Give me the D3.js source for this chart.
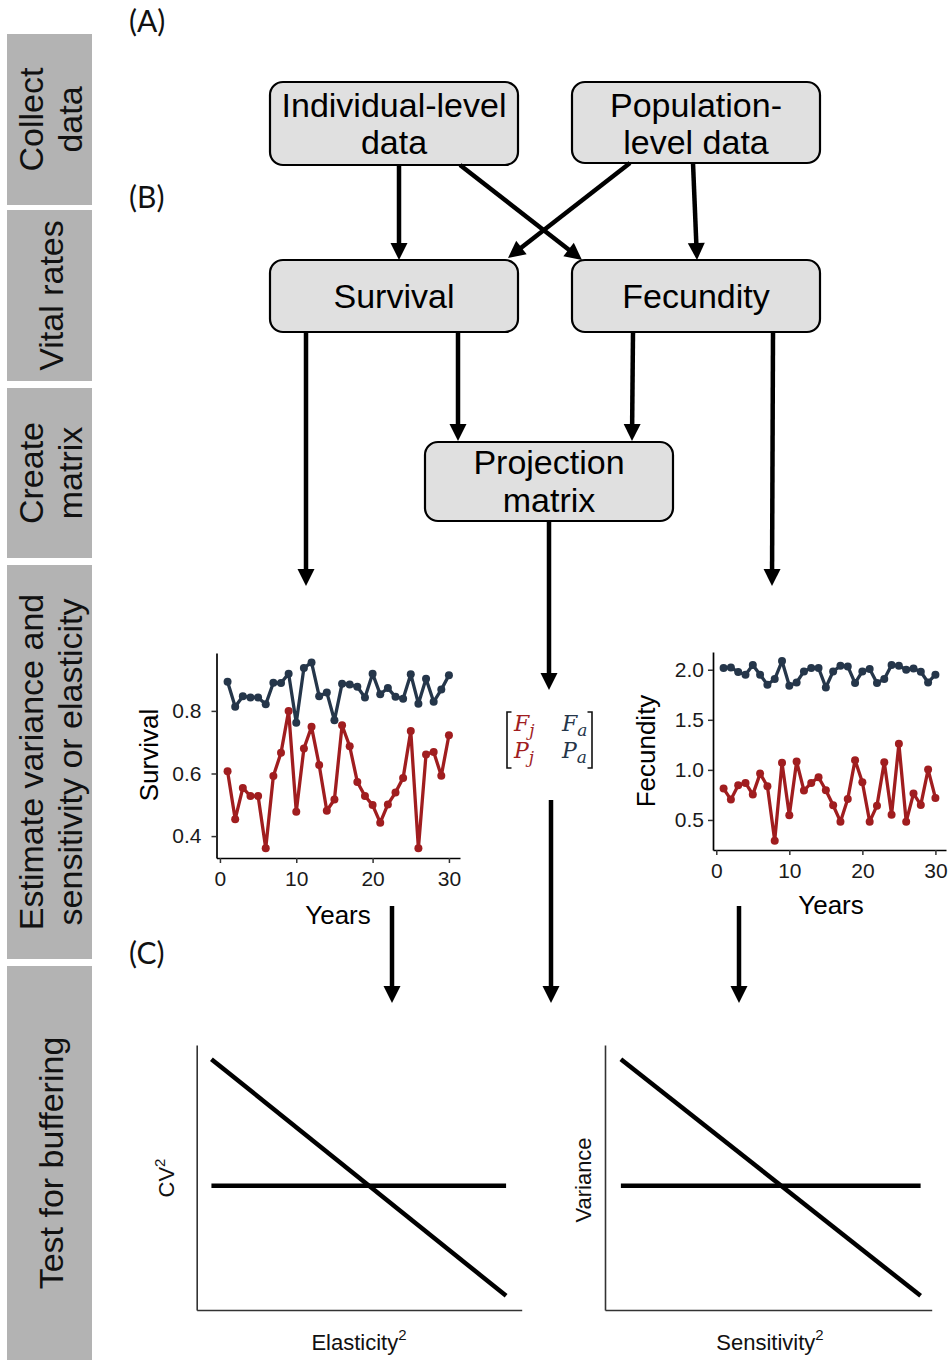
<!DOCTYPE html>
<html><head><meta charset="utf-8">
<script src="https://cdn.jsdelivr.net/npm/d3@7"></script>
<style>body{margin:0;background:#fff}svg{display:block}</style>
</head><body>
<svg id="c" width="950" height="1360"></svg>
<script>
// ---------------- DATA ----------------
const years = [1,2,3,4,5,6,7,8,9,10,11,12,13,14,15,16,17,18,19,20,21,22,23,24,25,26,27,28,29,30];
const survivalAdult = [0.893,0.813,0.847,0.843,0.843,0.821,0.890,0.889,0.919,0.762,0.937,0.955,0.847,0.859,0.770,0.887,0.884,0.877,0.843,0.919,0.853,0.873,0.845,0.839,0.917,0.823,0.903,0.829,0.868,0.914];
const survivalJuvenile = [0.607,0.454,0.554,0.528,0.528,0.361,0.592,0.666,0.800,0.478,0.680,0.749,0.627,0.481,0.517,0.754,0.687,0.573,0.528,0.499,0.443,0.501,0.539,0.586,0.736,0.361,0.661,0.669,0.593,0.722];
const fecundityAdult = [2.017,2.023,1.977,1.950,2.047,1.950,1.850,1.907,2.087,1.840,1.873,1.983,2.017,2.017,1.823,1.983,2.040,2.033,1.867,1.983,2.007,1.867,1.907,2.047,2.040,2.000,2.013,1.980,1.873,1.950];
const fecundityJuvenile = [0.813,0.703,0.847,0.870,0.753,0.963,0.837,0.293,1.070,0.547,1.083,0.793,0.870,0.927,0.797,0.647,0.483,0.710,1.097,0.877,0.483,0.643,1.077,0.553,1.260,0.483,0.763,0.650,1.003,0.720];
const yearTicks = [0,10,20,30];
const survivalTicks = [0.4,0.6,0.8];
const fecundityTicks = [0.5,1.0,1.5,2.0];
const conceptX = [0,1];
const steepY = [1,0];
const flatY = [0.465,0.465];
const stageLabels = [["Collect","data"],["Vital rates"],["Create","matrix"],["Estimate variance and","sensitivity or elasticity"],["Test for buffering"]];
const panelLabels = ["(A)","(B)","(C)"];
const boxLabels = [["Individual-level","data"],["Population-","level data"],["Survival"],["Fecundity"],["Projection","matrix"]];
const matrixEntries = [["F","j"],["F","a"],["P","j"],["P","a"]];
const matrixStage = ["juvenile","adult","juvenile","adult"];

// ---------------- LAYOUT / STYLE ----------------
const RED = "#a01d1f", BLUE = "#25364a";
const SANS = "'Liberation Sans', Arial, sans-serif";
const svg = d3.select("#c");
svg.append("rect").attr("width",950).attr("height",1360).attr("fill","#fff");

// sidebar
const stageBounds = [[34,205],[210,381],[388,558],[565,959],[966,1360]];
const side = svg.append("g");
stageLabels.forEach((lines,i)=>{
  const [y0,y1] = stageBounds[i];
  side.append("rect").attr("x",7).attr("y",y0).attr("width",85).attr("height",y1-y0).attr("fill","#b3b3b3");
  const cy = (y0+y1)/2;
  lines.forEach((t,k)=>{
    const bx = 62.5 + (k-(lines.length-1)/2)*39;
    side.append("text").attr("transform",`translate(${bx},${cy}) rotate(-90)`)
      .attr("text-anchor","middle").attr("font-family",SANS).attr("font-size",34).attr("fill","#111").text(t);
  });
});

// panel labels
const panelPos = [[129,32],[129,208],[129,964]];
panelLabels.forEach((t,i)=>{
  svg.append("text").attr("x",panelPos[i][0]).attr("y",panelPos[i][1])
    .attr("font-family","Lato, 'Open Sans', sans-serif").attr("font-size",30).attr("fill","#111").text(t);
});

// flow boxes
const boxRects = [[270,82,248,83],[572,82,248,81],[270,260,248,72],[572,260,248,72],[425,442,248,79]];
const boxBaselines = [[117,154],[117,154],[308],[308],[474,512]];
boxLabels.forEach((lines,i)=>{
  const [x,y,w,h] = boxRects[i];
  svg.append("rect").attr("x",x).attr("y",y).attr("width",w).attr("height",h).attr("rx",13)
    .attr("fill","#e0e0e0").attr("stroke","#000").attr("stroke-width",2.2);
  lines.forEach((t,k)=>{
    svg.append("text").attr("x",x+w/2).attr("y",boxBaselines[i][k]).attr("text-anchor","middle")
      .attr("font-family",SANS).attr("font-size",34).attr("fill","#000").text(t);
  });
});

// arrows
function arrow(x1,y1,x2,y2){
  const dx=x2-x1, dy=y2-y1, L=Math.hypot(dx,dy), ux=dx/L, uy=dy/L;
  const hl=17, hw=8.5;
  const bx=x2-ux*hl, by=y2-uy*hl;
  svg.append("line").attr("x1",x1).attr("y1",y1).attr("x2",bx+ux*2).attr("y2",by+uy*2)
    .attr("stroke","#000").attr("stroke-width",4.5);
  svg.append("path").attr("d",`M${x2},${y2}L${bx-uy*hw},${by+ux*hw}L${bx+uy*hw},${by-ux*hw}Z`).attr("fill","#000");
}
arrow(399,165,399,260);
arrow(460,165,582,260);
arrow(630,163,508,258);
arrow(693,163,697,260);
arrow(306,332,306,586);
arrow(458,332,458,441);
arrow(633,332,632,441);
arrow(773,332,772,586);
arrow(549,521,549,690);
arrow(551,800,551,1003);
arrow(392,906,392,1003);
arrow(739,906,739,1003);

// time series charts
function tsChart(opts){
  const g = svg.append("g");
  const x = d3.scaleLinear().domain([-0.45,31.45]).range(opts.xr);
  const y = d3.scaleLinear().domain(opts.yd).range(opts.yr);
  const ax = g.append("g").attr("transform",`translate(0,${opts.yr[0]})`)
    .call(d3.axisBottom(x).tickValues(yearTicks).tickSize(5).tickPadding(8).tickSizeOuter(0));
  const ay = g.append("g").attr("transform",`translate(${opts.xr[0]},0)`)
    .call(d3.axisLeft(y).tickValues(opts.ticks).tickFormat(d3.format(".1f")).tickSize(5).tickPadding(opts.pad).tickSizeOuter(0));
  [ax,ay].forEach(a=>{
    a.select(".domain").attr("stroke","#000").attr("stroke-width",1.7);
    a.selectAll(".tick line").attr("stroke","#333").attr("stroke-width",1.5);
    a.selectAll(".tick text").attr("font-family",SANS).attr("font-size",21).attr("fill","#1a1a1a");
  });
  const series = [[opts.juv,RED],[opts.adult,BLUE]];
  series.forEach(([vals,col])=>{
    const pts = years.map((yr,i)=>[yr,vals[i]]);
    g.append("path").attr("d",d3.line().x(d=>x(d[0])).y(d=>y(d[1]))(pts))
      .attr("fill","none").attr("stroke",col).attr("stroke-width",3.3).attr("stroke-linejoin","round");
    g.selectAll(null).data(pts).enter().append("circle")
      .attr("cx",d=>x(d[0])).attr("cy",d=>y(d[1])).attr("r",4).attr("fill",col);
  });
  g.append("text").attr("transform",`translate(${opts.ylab[0]},${opts.ylab[1]}) rotate(-90)`)
    .attr("text-anchor","middle").attr("font-family",SANS).attr("font-size",26).attr("fill","#000").text(opts.ytitle);
  g.append("text").attr("x",opts.xlab[0]).attr("y",opts.xlab[1]).attr("text-anchor","middle")
    .attr("font-family",SANS).attr("font-size",26).attr("fill","#000").text("Years");
}
tsChart({xr:[216.5,460], yd:[0.33,0.985], yr:[858,653], ticks:survivalTicks, pad:10,
  juv:survivalJuvenile, adult:survivalAdult, ytitle:"Survival", ylab:[158,755], xlab:[338,924]});
tsChart({xr:[713,946], yd:[0.20,2.177], yr:[850,652], ticks:fecundityTicks, pad:4,
  juv:fecundityJuvenile, adult:fecundityAdult, ytitle:"Fecundity", ylab:[655,751], xlab:[831,914]});

// matrix
const mg = svg.append("g");
mg.append("path").attr("d","M511.5,712H507V768H511.5").attr("fill","none").attr("stroke","#111").attr("stroke-width",1.6);
mg.append("path").attr("d","M587.5,712H592V768H587.5").attr("fill","none").attr("stroke","#111").attr("stroke-width",1.6);
const matPos = [[514,731],[562,731],[514,758],[562,758]];
matrixEntries.forEach((e,i)=>{
  const col = matrixStage[i]==="juvenile" ? RED : BLUE;
  const t = mg.append("text").attr("x",matPos[i][0]).attr("y",matPos[i][1])
    .attr("font-family","'DejaVu Serif','Liberation Serif',serif").attr("font-style","italic")
    .attr("font-size",22).attr("fill",col);
  t.append("tspan").text(e[0]);
  t.append("tspan").attr("dy",5).attr("font-size",17).text(e[1]);
});

// conceptual buffering charts
function conceptChart(o){
  const g = svg.append("g");
  const x = d3.scaleLinear().domain(o.xd).range([o.left,o.right]);
  const y = d3.scaleLinear().domain([-0.06,1.06]).range([1310,1045]);
  const ax = g.append("g").attr("transform","translate(0,1310)").call(d3.axisBottom(x).tickValues([]).tickSizeOuter(0));
  const ay = g.append("g").attr("transform",`translate(${o.left},0)`).call(d3.axisLeft(y).tickValues([]).tickSizeOuter(0));
  [ax,ay].forEach(a=>a.select(".domain").attr("stroke","#333").attr("stroke-width",1.6));
  [steepY,flatY].forEach(ys=>{
    const pts = conceptX.map((v,i)=>[v,ys[i]]);
    g.append("path").attr("d",d3.line().x(d=>x(d[0])).y(d=>y(d[1]))(pts))
      .attr("fill","none").attr("stroke","#000").attr("stroke-width",4.5);
  });
  const yl = g.append("text").attr("transform",`translate(${o.ylab[0]},${o.ylab[1]}) rotate(-90)`)
    .attr("text-anchor","middle").attr("font-family",SANS).attr("font-size",22).attr("fill","#111");
  yl.append("tspan").text(o.ytitle);
  if(o.ysup){ yl.append("tspan").attr("dy",-9).attr("font-size",15).text(o.ysup); }
  const xl = g.append("text").attr("x",o.xlab[0]).attr("y",1350).attr("text-anchor","middle")
    .attr("font-family",SANS).attr("font-size",22).attr("fill","#111");
  xl.append("tspan").text(o.xtitle);
  xl.append("tspan").attr("dy",-10).attr("font-size",15).text("2");
}
conceptChart({left:196.7,right:521.7,xd:[-0.05,1.053],ytitle:"CV",ysup:"2",ylab:[174,1178],xtitle:"Elasticity",xlab:[359,0]});
conceptChart({left:605,right:931.7,xd:[-0.053,1.037],ytitle:"Variance",ysup:null,ylab:[591,1180],xtitle:"Sensitivity",xlab:[770,0]});
</script></body></html>
